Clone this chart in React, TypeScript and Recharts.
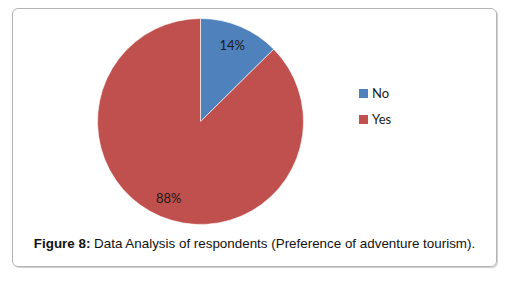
import React from "react"
import { PieChart, Pie, Cell, Legend } from "recharts"

// answers and the share of each slice, as drawn
const answers = ["No", "Yes"]
const shares = [12.6, 87.4]
// the percentages printed on the slices
const sliceLabels = ["14%", "88%"]
const COLORS = ["#4F81BD", "#C0504D"]

const pieData = answers.map((name, i) => ({ name, value: shares[i], label: sliceLabels[i] }))

const RAD = Math.PI / 180

const renderLabel = (props: any) => {
  const { cx, cy, midAngle, outerRadius, index } = props
  const r = outerRadius * 0.8
  const x = cx + r * Math.cos(-midAngle * RAD)
  const y = cy + r * Math.sin(-midAngle * RAD)
  return (
    <text
      x={x}
      y={y}
      textAnchor="middle"
      dominantBaseline="central"
      style={{ fontSize: 13, fill: "#1a1a1a", fontFamily: "Lato, 'Open Sans', sans-serif" }}
    >
      {pieData[index].label}
    </text>
  )
}

const renderLegend = (props: any) => {
  const { payload } = props
  return (
    <div style={{ fontFamily: "Lato, 'Open Sans', sans-serif", fontSize: 13, color: "#1a1a1a" }}>
      {payload.map((entry: any, i: number) => (
        <div key={`leg-${i}`} style={{ display: "flex", alignItems: "center", height: 26 }}>
          <span style={{ width: 9, height: 9, background: entry.color, marginRight: 4, display: "inline-block" }} />
          <span>{entry.value}</span>
        </div>
      ))}
    </div>
  )
}

export default function App() {
  return (
    <div style={{ position: "absolute", left: 0, top: 0, width: 508, height: 282, background: "#fff" }}>
      <div
        style={{
          position: "absolute",
          left: 12,
          top: 8,
          width: 483,
          height: 257,
          border: "1px solid #b4b4b4",
          borderRadius: 6,
          boxShadow: "1px 1px 1px #cfcfcf",
        }}
      />
      <div style={{ position: "absolute", left: 0, top: 0 }}>
        <PieChart width={508} height={240} margin={{ top: 0, right: 0, bottom: 0, left: 0 }}>
          <Pie
            data={pieData}
            dataKey="value"
            nameKey="name"
            cx={200.5}
            cy={121.5}
            outerRadius={103}
            startAngle={90}
            endAngle={-270}
            stroke="#ffffff"
            strokeWidth={0.6}
            label={renderLabel}
            labelLine={false}
            isAnimationActive={false}
          >
            {pieData.map((_entry, index) => (
              <Cell key={`cell-${index}`} fill={COLORS[index]} />
            ))}
          </Pie>
          <Legend
            layout="vertical"
            content={renderLegend}
            wrapperStyle={{ left: 359, top: 80, width: 80 }}
          />
        </PieChart>
      </div>
      <div
        style={{
          position: "absolute",
          left: 12,
          width: 485,
          top: 236,
          textAlign: "center",
          fontFamily: "'Liberation Sans', Arial, sans-serif",
          fontSize: 13.4,
          color: "#111",
        }}
      >
        <b>Figure 8:</b> Data Analysis of respondents (Preference of adventure tourism).
      </div>
    </div>
  )
}
